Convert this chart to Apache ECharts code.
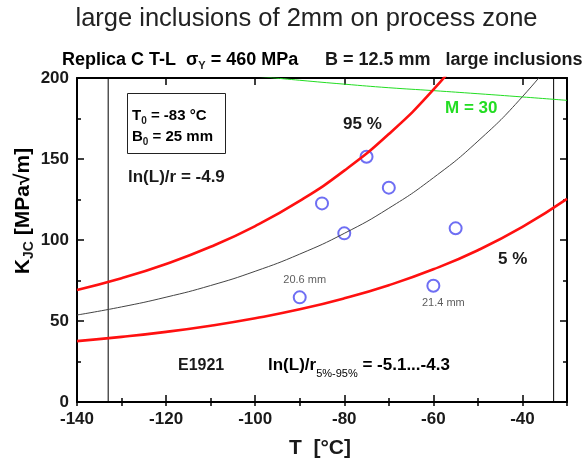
<!DOCTYPE html>
<html>
<head>
<meta charset="utf-8">
<script src="https://cdn.jsdelivr.net/npm/echarts@6/dist/echarts.min.js"></script>
<style>
  html, body { margin: 0; padding: 0; background: #ffffff; }
  #chart { width: 585px; height: 460px; }
</style>
</head>
<body>
<div id="chart"></div>
<script>
// Temperature grid (°C) on which the master curves are tabulated
const curveT = [-140, -130, -120, -110, -100, -90, -80, -70, -60, -50, -40, -30];
// Fracture toughness K_JC (MPa√m) along each curve; null = above the plotted range
const curve95 = [69.2, 76.4, 85.2, 95.8, 108.6, 124.1, 142.8, 165.4, 192.8, 225.9, null, null];
const curve50 = [53.7, 58.7, 64.7, 71.9, 80.7, 91.3, 104.1, 119.6, 138.4, 161.0, 188.5, 221.6];
const curve05 = [37.6, 40.2, 43.3, 47.1, 51.7, 57.2, 64.0, 72.1, 81.9, 93.7, 108.1, 125.4];

// Measuring capacity limit M = 30
const limitT = [-100, -90, -80, -70, -60, -50, -40, -30];
const limitK = [201.2, 198.6, 196.2, 194.0, 192.2, 190.3, 188.3, 186.2];

// Test results
const testT = [-90, -85, -80, -75, -70, -60, -55];
const testK = [64.6, 122.6, 104.1, 151.4, 132.3, 71.8, 107.2];
const testNote = ['20.6 mm', '', '', '', '', '21.4 mm', ''];

// Validity window T0 ± 50 °C
const validityT = [-133, -33];

// Axis ranges and tick steps
const xRange = [-140, -30];
const xMajor = 20, xMinor = 10;
const yRange = [0, 200];
const yMajor = 50;

const FONT = '"Liberation Sans", Arial, sans-serif';
const INK = '#1a1a1a';
const RED = '#ff1010';
const BLUE = '#4a4af0';
const GREEN = '#22dd22';

const pairs = (xs, ys) => xs.map((x, i) => [x, ys[i]]);

const chart = echarts.init(document.getElementById('chart'), null, { renderer: 'canvas' });

const baseX = {
  type: 'value', min: xRange[0], max: xRange[1],
  splitLine: { show: false },
  axisLine: { show: true, onZero: false, lineStyle: { color: '#000', width: 2 } }
};
const baseY = {
  type: 'value', min: yRange[0], max: yRange[1], interval: yMajor,
  splitLine: { show: false },
  axisLine: { show: true, onZero: false, lineStyle: { color: '#000', width: 2 } },
  axisTick: { show: true, inside: true, length: 7, lineStyle: { color: '#000', width: 1.5 } },
  minorTick: { show: true, splitNumber: 2, length: 4, lineStyle: { color: '#000', width: 1.5 } }
};
const tickLabel = { fontFamily: FONT, fontWeight: 'bold', fontSize: 17, color: INK };

const sub = { fontFamily: FONT, fontWeight: 'bold', fontSize: 11, verticalAlign: 'top', lineHeight: 11, padding: [9, 0, 0, 0], fill: INK };

function txt(x, y, text, size, opts) {
  opts = opts || {};
  return {
    type: 'text', x: x, y: y, silent: true,
    style: {
      text: text, fill: opts.color || INK,
      font: (opts.weight || 'bold') + ' ' + size + 'px ' + FONT,
      align: opts.align || 'left', verticalAlign: 'middle'
    }
  };
}

function richMain(size, color) {
  return { fontFamily: FONT, fontWeight: 'bold', fontSize: size, verticalAlign: 'top', lineHeight: size + 2, color: color || INK };
}

const option = {
  animation: false,
  backgroundColor: '#ffffff',
  grid: { left: 77, right: 18, top: 78, bottom: 58 },
  xAxis: [
    Object.assign({}, baseX, { position: 'bottom', interval: xMajor,
      axisTick: { show: true, inside: true, length: 7, lineStyle: { color: '#000', width: 1.5 } },
      axisLabel: Object.assign({ margin: 9, showMaxLabel: false }, tickLabel) }),
    Object.assign({}, baseX, { position: 'bottom', interval: xMinor,
      axisLine: { show: false },
      axisTick: { show: true, inside: true, length: 4, lineStyle: { color: '#000', width: 1.5 } },
      axisLabel: { show: false } }),
    Object.assign({}, baseX, { position: 'top', interval: xMajor,
      axisTick: { show: true, inside: true, length: 7, lineStyle: { color: '#000', width: 1.5 } },
      axisLabel: { show: false } }),
    Object.assign({}, baseX, { position: 'top', interval: xMinor,
      axisLine: { show: false },
      axisTick: { show: true, inside: true, length: 4, lineStyle: { color: '#000', width: 1.5 } },
      axisLabel: { show: false } })
  ],
  yAxis: [
    Object.assign({}, baseY, { position: 'left', axisLabel: Object.assign({ margin: 8 }, tickLabel) }),
    Object.assign({}, baseY, { position: 'right', axisLabel: { show: false } })
  ],
  series: [
    { name: 'validity low', type: 'line', data: [[validityT[0], yRange[0]], [validityT[0], yRange[1]]],
      symbol: 'none', lineStyle: { color: '#000', width: 1 }, silent: true },
    { name: 'validity high', type: 'line', data: [[validityT[1], yRange[0]], [validityT[1], yRange[1]]],
      symbol: 'none', lineStyle: { color: '#000', width: 1 }, silent: true },
    { name: 'M = 30', type: 'line', data: pairs(limitT, limitK), smooth: true, clip: true,
      symbol: 'none', lineStyle: { color: GREEN, width: 1 } },
    { name: 'median', type: 'line', data: pairs(curveT, curve50), smooth: true, clip: true,
      symbol: 'none', lineStyle: { color: '#444', width: 1 } },
    { name: '95 %', type: 'line', data: pairs(curveT, curve95), smooth: true, clip: true,
      symbol: 'none', lineStyle: { color: RED, width: 2.6 } },
    { name: '5 %', type: 'line', data: pairs(curveT, curve05), smooth: true, clip: true,
      symbol: 'none', lineStyle: { color: RED, width: 2.6 } },
    { name: 'tests', type: 'scatter', symbol: 'emptyCircle', symbolSize: 12,
      itemStyle: { color: BLUE, borderColor: BLUE, borderWidth: 1.4 },
      data: testT.map((t, i) => {
        const item = { value: [t, testK[i]] };
        if (testNote[i]) {
          item.label = {
            show: true, formatter: testNote[i],
            position: i === 0 ? 'top' : 'bottom', distance: 5,
            offset: i === 0 ? [5, 0] : [10, 0],
            fontFamily: FONT, fontSize: 11, color: '#333'
          };
        }
        return item;
      }) }
  ],
  graphic: [
    txt(306.5, 19, 'large inclusions of 2mm on process zone', 25.5, { weight: 'normal', color: '#222', align: 'center' }),
    {
      type: 'text', x: 62, y: 51, silent: true,
      style: {
        text: '{b|Replica C T-L  σ}{s|Y}{b| = 460 MPa}',
        rich: { b: richMain(18), s: Object.assign({}, sub, { fontSize: 11, lineHeight: 11, padding: [9, 0, 0, 0] }) }
      }
    },
    txt(325, 60, 'B = 12.5 mm   large inclusions', 18),
    { type: 'rect', silent: true, shape: { x: 127.5, y: 93.5, width: 98, height: 60 },
      style: { fill: 'none', stroke: '#222', lineWidth: 1 } },
    {
      type: 'text', x: 132, y: 108, silent: true,
      style: { text: '{b|T}{s|0}{b| = -83 °C}', rich: { b: richMain(15), s: Object.assign({}, sub, { fontSize: 10, lineHeight: 10, padding: [8, 0, 0, 0] }) } }
    },
    {
      type: 'text', x: 132, y: 129.5, silent: true,
      style: { text: '{b|B}{s|0}{b| = 25 mm}', rich: { b: richMain(15), s: Object.assign({}, sub, { fontSize: 10, lineHeight: 10, padding: [8, 0, 0, 0] }) } }
    },
    txt(128, 177, 'ln(L)/r = -4.9', 17),
    txt(343, 124, '95 %', 17),
    txt(445, 108.5, 'M = 30', 17, { color: GREEN }),
    txt(498, 259, '5 %', 17),
    txt(178, 365.5, 'E1921', 16),
    {
      type: 'text', x: 268, y: 357, silent: true,
      style: {
        text: '{b|ln(L)/r}{s|5%-95%}{b| = -5.1...-4.3}',
        rich: { b: richMain(17), s: { fontFamily: FONT, fontSize: 11, color: '#333', verticalAlign: 'top', lineHeight: 11, padding: [11, 0, 0, 0] } }
      }
    },
    txt(320, 448, 'T  [°C]', 21, { align: 'center' }),
    {
      type: 'text', x: 24, y: 211, rotation: Math.PI / 2, silent: true,
      style: {
        text: '{b|K}{s|JC}{b| [MPa√m]}', align: 'center', verticalAlign: 'middle',
        rich: { b: richMain(21), s: Object.assign({}, sub, { fontSize: 14, lineHeight: 14, padding: [10, 0, 0, 0] }) }
      }
    }
  ]
};

chart.setOption(option);
</script>
</body>
</html>
